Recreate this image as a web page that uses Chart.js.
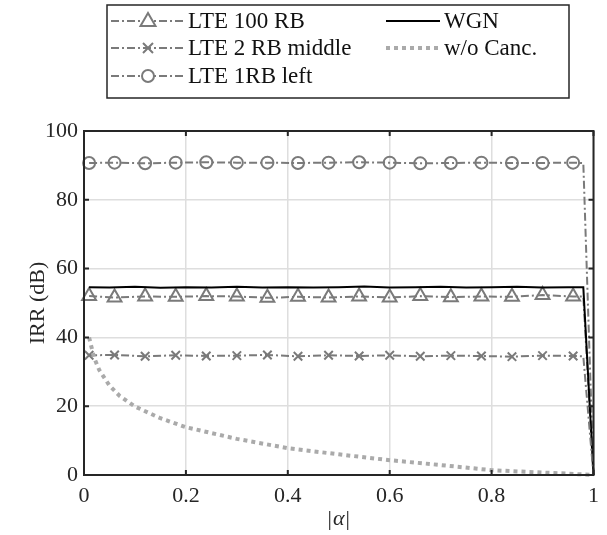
<!DOCTYPE html>
<html>
<head>
<meta charset="utf-8">
<script src="https://cdn.jsdelivr.net/npm/chart.js@4/dist/chart.umd.min.js"></script>
<style>
  html, body { margin: 0; padding: 0; background: #fff; }
  #wrap { width: 607px; height: 535px; }
</style>
</head>
<body>
<div id="wrap"><canvas id="irr-chart" width="607" height="535"></canvas></div>
<script>
// |alpha| positions where markers sit, plus the two end points (0.98, 1)
var alphaLTE = [0.01, 0.06, 0.12, 0.18, 0.24, 0.30, 0.36, 0.42, 0.48, 0.54, 0.60, 0.66, 0.72, 0.78, 0.84, 0.90, 0.96, 0.98, 1.0];
var markerCount = 17;

var lte100RB = [52.0, 51.6, 51.9, 51.8, 52.0, 51.9, 51.5, 51.8, 51.6, 51.9, 51.6, 52.0, 51.7, 51.9, 51.8, 52.3, 51.9, 51.9, 0];
var lte2RB   = [34.8, 34.9, 34.5, 34.8, 34.6, 34.7, 34.9, 34.5, 34.8, 34.6, 34.8, 34.5, 34.7, 34.6, 34.4, 34.7, 34.6, 34.5, 0];
var lte1RB   = [90.7, 90.8, 90.6, 90.8, 90.9, 90.8, 90.8, 90.7, 90.8, 90.9, 90.8, 90.6, 90.7, 90.8, 90.7, 90.7, 90.8, 90.7, 0];

var alphaWGN = [0.01, 0.05, 0.10, 0.15, 0.20, 0.25, 0.30, 0.35, 0.40, 0.45, 0.50, 0.55, 0.60, 0.65, 0.70, 0.75, 0.80, 0.85, 0.90, 0.95, 0.98, 1.0];
var wgn      = [54.6, 54.5, 54.7, 54.4, 54.6, 54.5, 54.7, 54.5, 54.6, 54.5, 54.6, 54.8, 54.5, 54.6, 54.7, 54.5, 54.6, 54.7, 54.5, 54.6, 54.6, 0];

var alphaCanc = [0.01, 0.02, 0.03, 0.05, 0.07, 0.10, 0.15, 0.20, 0.30, 0.40, 0.50, 0.60, 0.70, 0.80, 0.90, 0.95, 1.0];
var noCanc    = [40.0, 34.0, 30.5, 26.0, 23.0, 19.9, 16.5, 13.9, 10.5, 7.8, 6.0, 4.3, 2.9, 1.4, 0.7, 0.4, 0];

var xTicks = [0, 0.2, 0.4, 0.6, 0.8, 1];
var yTicks = [0, 20, 40, 60, 80, 100];

var legendNames = ["LTE 100 RB", "LTE 2 RB middle", "LTE 1RB left", "WGN", "w/o Canc."];

var GRAY = "#7a7a7a";
var LIGHT = "#aaaaaa";
var DARK = "#262626";
var SERIF = "'Liberation Serif', 'DejaVu Serif', serif";
var DASHDOT = [8, 3, 2, 3];

function pts(xs, ys) {
  var out = [];
  for (var i = 0; i < xs.length; i++) out.push({x: xs[i], y: ys[i]});
  return out;
}

function markerRadius(r) {
  return function (c) { return c.dataIndex < markerCount ? r : 0; };
}

// frame, inward ticks, x title and legend box
var framePlugin = {
  id: "frame",
  afterDatasetsDraw: function (chart) {
    var ctx = chart.ctx;
    var a = chart.chartArea;
    var xs = chart.scales.x, ys = chart.scales.y;
    ctx.save();
    ctx.strokeStyle = DARK;
    ctx.lineWidth = 2;
    ctx.setLineDash([]);
    ctx.strokeRect(a.left, a.top, a.right - a.left, a.bottom - a.top);
    var t = 5;
    xTicks.forEach(function (v) {
      var px = xs.getPixelForValue(v);
      ctx.beginPath();
      ctx.moveTo(px, a.bottom); ctx.lineTo(px, a.bottom - t);
      ctx.moveTo(px, a.top); ctx.lineTo(px, a.top + t);
      ctx.stroke();
    });
    yTicks.forEach(function (v) {
      var py = ys.getPixelForValue(v);
      ctx.beginPath();
      ctx.moveTo(a.left, py); ctx.lineTo(a.left + t, py);
      ctx.moveTo(a.right, py); ctx.lineTo(a.right - t, py);
      ctx.stroke();
    });

    // x axis title |alpha| with italic alpha
    var cx = (a.left + a.right) / 2, cy = 519;
    ctx.fillStyle = DARK;
    ctx.textBaseline = "middle";
    ctx.textAlign = "left";
    var up = "22px " + SERIF, it = "italic 22px " + SERIF;
    ctx.font = up; var wb = ctx.measureText("|").width;
    ctx.font = it; var wa = ctx.measureText("α").width;
    var x0 = cx - (wb * 2 + wa + 2) / 2;
    ctx.font = up; ctx.fillText("|", x0, cy);
    ctx.font = it; ctx.fillText("α", x0 + wb + 1, cy);
    ctx.font = up; ctx.fillText("|", x0 + wb + wa + 2, cy);
    ctx.restore();
  },
  afterDraw: function (chart) {
    var ctx = chart.ctx;
    ctx.save();
    ctx.fillStyle = "#fff";
    ctx.fillRect(107, 5, 462, 93);
    ctx.strokeStyle = DARK;
    ctx.lineWidth = 1.5;
    ctx.strokeRect(107, 5, 462, 93);

    var rows = [21, 48, 76];
    ctx.font = "23px " + SERIF;
    ctx.textBaseline = "middle";

    function sample(x0, x1, y, color, width, dash) {
      ctx.strokeStyle = color;
      ctx.lineWidth = width;
      ctx.setLineDash(dash);
      ctx.beginPath();
      ctx.moveTo(x0, y); ctx.lineTo(x1, y);
      ctx.stroke();
      ctx.setLineDash([]);
    }

    // column 1
    for (var i = 0; i < 3; i++) {
      var y = rows[i];
      sample(111, 184, y, GRAY, 2, DASHDOT);
      var cx = 148;
      ctx.strokeStyle = GRAY;
      ctx.lineWidth = 2;
      ctx.fillStyle = "#fff";
      ctx.beginPath();
      if (i === 0) {
        ctx.moveTo(cx, y - 8); ctx.lineTo(cx + 7.5, y + 5); ctx.lineTo(cx - 7.5, y + 5); ctx.closePath();
        ctx.fill(); ctx.stroke();
      } else if (i === 1) {
        ctx.moveTo(cx - 5, y - 5); ctx.lineTo(cx + 5, y + 5);
        ctx.moveTo(cx + 5, y - 5); ctx.lineTo(cx - 5, y + 5);
        ctx.stroke();
      } else {
        ctx.arc(cx, y, 6, 0, Math.PI * 2);
        ctx.fill(); ctx.stroke();
      }
      ctx.fillStyle = "#111";
      ctx.fillText(legendNames[i], 188, y + 1);
    }
    // column 2
    sample(386, 440, rows[0], "#000", 2, []);
    ctx.fillText(legendNames[3], 444, rows[0] + 1);
    sample(386, 440, rows[1], LIGHT, 4, [4, 4]);
    ctx.fillText(legendNames[4], 444, rows[1] + 1);
    ctx.restore();
  }
};

var ctx1 = document.getElementById("irr-chart");

var chart1 = new Chart(ctx1, {
  type: "scatter",
  data: {
    datasets: [
      {
        label: legendNames[4],
        data: pts(alphaCanc, noCanc),
        showLine: true,
        borderColor: LIGHT,
        borderWidth: 4,
        borderDash: [4, 4],
        pointRadius: 0,
        clip: false
      },
      {
        label: legendNames[1],
        data: pts(alphaLTE, lte2RB),
        showLine: true,
        borderColor: GRAY,
        borderWidth: 2,
        borderDash: DASHDOT,
        pointStyle: "crossRot",
        pointRadius: markerRadius(6),
        pointBorderColor: GRAY,
        pointBorderWidth: 2,
        clip: false
      },
      {
        label: legendNames[3],
        data: pts(alphaWGN, wgn),
        showLine: true,
        borderColor: "#000",
        borderWidth: 2,
        pointRadius: 0,
        clip: false
      },
      {
        label: legendNames[0],
        data: pts(alphaLTE, lte100RB),
        showLine: true,
        borderColor: GRAY,
        borderWidth: 2,
        borderDash: DASHDOT,
        pointStyle: "triangle",
        pointRadius: markerRadius(8),
        pointBorderColor: GRAY,
        pointBackgroundColor: "rgba(0,0,0,0)",
        pointBorderWidth: 2,
        clip: false
      },
      {
        label: legendNames[2],
        data: pts(alphaLTE, lte1RB),
        showLine: true,
        borderColor: GRAY,
        borderWidth: 2,
        borderDash: DASHDOT,
        pointStyle: "circle",
        pointRadius: markerRadius(6),
        pointBorderColor: GRAY,
        pointBackgroundColor: "rgba(0,0,0,0)",
        pointBorderWidth: 2,
        clip: false
      }
    ]
  },
  options: {
    responsive: false,
    animation: false,
    devicePixelRatio: 1,
    layout: { padding: { top: 131, right: 13, left: 0, bottom: 0 } },
    plugins: {
      legend: { display: false },
      tooltip: { enabled: false }
    },
    scales: {
      x: {
        type: "linear",
        min: 0,
        max: 1,
        afterFit: function (s) { s.height = 60; },
        afterBuildTicks: function (s) { s.ticks = xTicks.map(function (v) { return {value: v}; }); },
        grid: { color: "#dedede", lineWidth: 1.5, drawTicks: false },
        border: { display: false },
        ticks: {
          padding: 8,
          color: DARK,
          font: { family: SERIF, size: 22 },
          callback: function (v) { return String(v); }
        }
      },
      y: {
        type: "linear",
        min: 0,
        max: 100,
        afterFit: function (s) { s.width = 84; },
        afterBuildTicks: function (s) { s.ticks = yTicks.map(function (v) { return {value: v}; }); },
        grid: { color: "#dedede", lineWidth: 1.5, drawTicks: false },
        border: { display: false },
        ticks: {
          padding: 6,
          color: DARK,
          font: { family: SERIF, size: 22 }
        },
        title: {
          display: true,
          text: "IRR (dB)",
          color: DARK,
          font: { family: SERIF, size: 22 },
          padding: { top: 25, bottom: 0 }
        }
      }
    }
  },
  plugins: [framePlugin]
});
</script>
</body>
</html>
